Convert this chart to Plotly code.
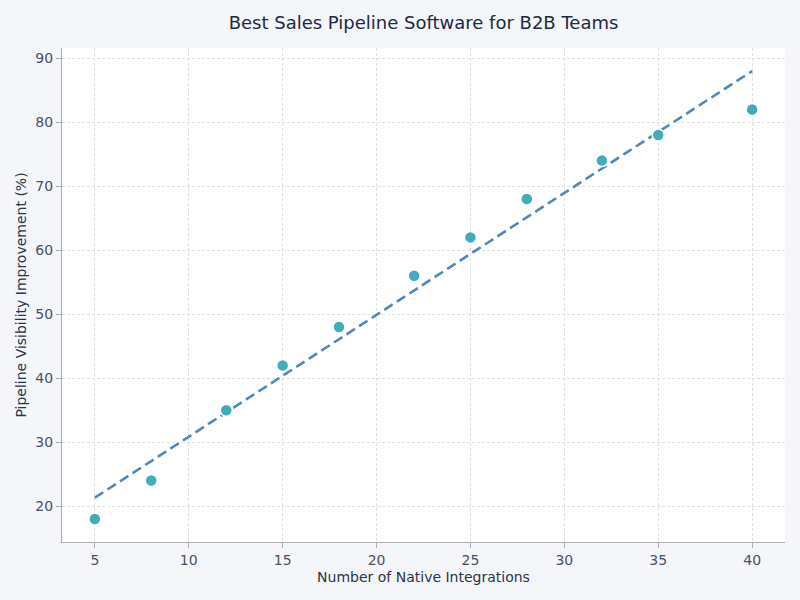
import numpy as np
import plotly.graph_objects as go

# data
integrations = [5, 8, 12, 15, 18, 22, 25, 28, 32, 35, 40]
visibility = [18, 24, 35, 42, 48, 56, 62, 68, 74, 78, 82]

# linear trend through the points
slope, intercept = np.polyfit(integrations, visibility, 1)
trend_x = [min(integrations), max(integrations)]
trend_y = [slope * v + intercept for v in trend_x]

fig = go.Figure()

fig.add_trace(go.Scatter(x=trend_x, y=trend_y, mode='lines',
                         line=dict(color='#4f87bf', width=2.6, dash='10px,5px'),
                         hoverinfo='skip', showlegend=False))

fig.add_trace(go.Scatter(x=integrations, y=visibility, mode='markers',
                         marker=dict(size=12, color='#41adb8',
                                     line=dict(color='white', width=1.5)),
                         showlegend=False))

axis_font = dict(family='DejaVu Sans', size=14, color='#4a5262')
title_font = dict(family='DejaVu Sans', size=14, color='#2b3447')

fig.update_layout(
    width=800, height=600,
    title=dict(text='Best Sales Pipeline Software for B2B Teams', x=0.5, xref='paper',
               y=0.962, yanchor='middle',
               font=dict(family='DejaVu Sans', size=18, color='#1e2a45')),
    paper_bgcolor='#f4f6fa', plot_bgcolor='white',
    margin=dict(l=62, r=15, t=48, b=58),
    xaxis=dict(title=dict(text='Number of Native Integrations', font=title_font, standoff=5),
               range=[3.25, 41.75], tickvals=[5, 10, 15, 20, 25, 30, 35, 40],
               tickfont=axis_font, ticks='outside', ticklen=5, tickcolor='#a9adb8',
               showline=True, linecolor='#a9adb8', linewidth=1, mirror=False,
               showgrid=True, gridcolor='#e0e0e0', griddash='3px,2px', gridwidth=1,
               zeroline=False),
    yaxis=dict(title=dict(text='Pipeline Visibility Improvement (%)', font=title_font, standoff=5),
               range=[14.4, 91.6], tickvals=[20, 30, 40, 50, 60, 70, 80, 90],
               tickfont=axis_font, ticks='outside', ticklen=5, tickcolor='#a9adb8',
               showline=True, linecolor='#a9adb8', linewidth=1,
               showgrid=True, gridcolor='#e0e0e0', griddash='3px,2px', gridwidth=1,
               zeroline=False),
)

# drop the page margin so the figure sits flush in the window
fig.write_html("out.html", config={'displayModeBar': False},
               post_script="document.body.style.margin='0';")
